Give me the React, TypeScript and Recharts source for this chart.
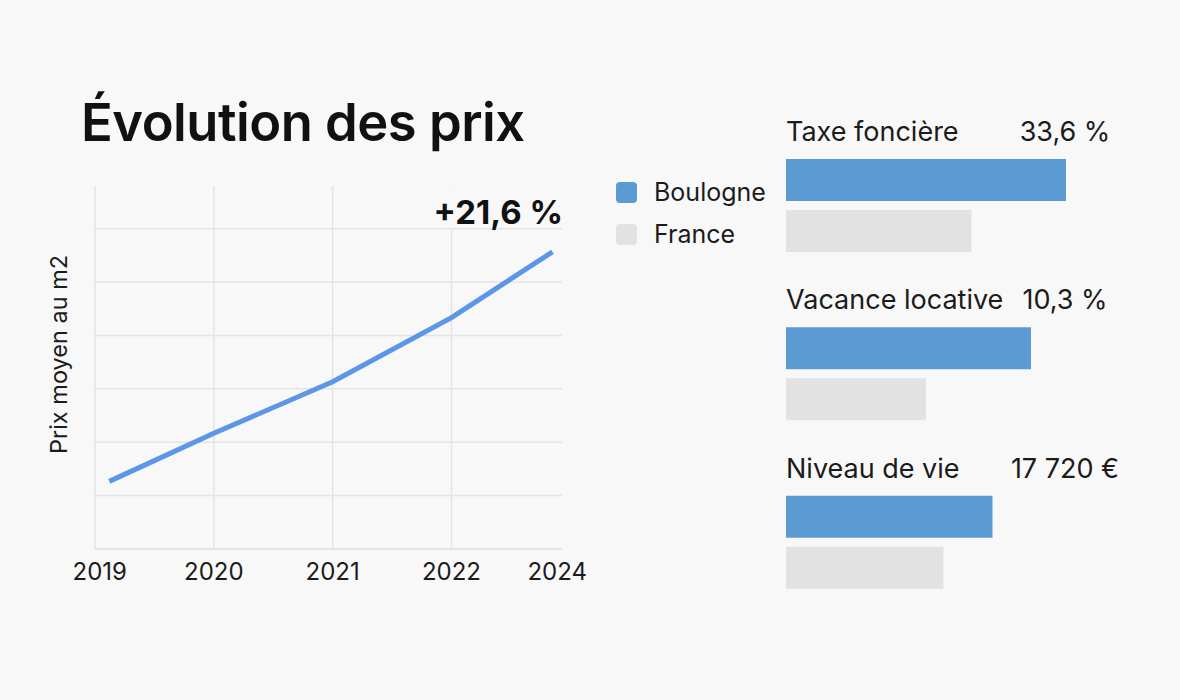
import React from "react";
import {
  LineChart,
  Line,
  XAxis,
  YAxis,
  CartesianGrid,
  BarChart,
  Bar,
  Legend,
  LabelList,
} from "recharts";

// ---------------------------------------------------------------------------
// Données
// ---------------------------------------------------------------------------
const annees = ["2019", "2020", "2021", "2022", "2024"];
const rangAnnee = [0.12, 1, 2, 3, 3.85];
const prixM2 = [5980, 6250, 6540, 6900, 7270];
const rangEtiquettes = [0.04, 1, 2, 3, 3.89];
const rangGrille = [1, 2, 3];
const graduationsPrix = [5600, 5900, 6200, 6500, 6800, 7100, 7400];

const criteres = ["Taxe foncière", "Vacance locative", "Niveau de vie"];
const valeursBoulogne = ["33,6 %", "10,3 %", "17 720 €"];
// indice comparatif (0 à 100) de chaque critère
const indiceBoulogne = [80, 70, 59];
const indiceFrance = [53, 40, 45];

const FONT = "Inter, 'Noto Sans', sans-serif";
const TEXTE = "#1b1b1b";
const GRILLE = "#e4e4e4";
const BLEU_LIGNE = "#5b96e8";
const BLEU = "#5c9ad3";
const GRIS = "#e2e2e2";
const FOND = "#f8f8f8";

const donneesPrix = annees.map((a, i) => ({
  annee: a,
  rang: rangAnnee[i],
  prix: prixM2[i],
}));

const donneesCriteres = criteres.map((c, i) => ({
  critere: c,
  valeur: valeursBoulogne[i],
  boulogne: indiceBoulogne[i],
  france: indiceFrance[i],
}));

const EtiquetteCritere = (props: any) => {
  const { x, y, index } = props;
  return (
    <g fontFamily={FONT} fontSize={27} fill={TEXTE}>
      <text x={x} y={y - 18} textAnchor="start">
        {criteres[index]}
      </text>
      <text x={x + 279} y={y - 18} textAnchor="middle">
        {valeursBoulogne[index]}
      </text>
    </g>
  );
};

const LegendeCarres = (props: any) => {
  const { payload } = props;
  return (
    <div style={{ fontFamily: FONT }}>
      {(payload || []).map((p: any) => (
        <div
          key={p.value}
          style={{ display: "flex", alignItems: "center", height: 42 }}
        >
          <span
            style={{
              width: 21,
              height: 21,
              borderRadius: 4,
              background: p.color,
              display: "inline-block",
              marginRight: 17,
            }}
          />
          <span style={{ fontSize: 25, color: TEXTE }}>{p.value}</span>
        </div>
      ))}
    </div>
  );
};

export default function App() {
  return (
    <div
      style={{
        position: "fixed",
        left: 0,
        top: 0,
        width: 1180,
        height: 700,
        background: FOND,
        fontFamily: FONT,
        overflow: "hidden",
      }}
    >
      <div
        style={{
          position: "absolute",
          left: 81,
          top: 96,
          fontSize: 52.5,
          lineHeight: 1,
          fontWeight: 600,
          color: "#111",
          letterSpacing: -0.5,
        }}
      >
        Évolution des prix
      </div>

      <div style={{ position: "absolute", left: 0, top: 160 }}>
        <LineChart
          width={600}
          height={430}
          data={donneesPrix}
          margin={{ top: 26, right: 38, left: 35, bottom: 0 }}
        >
          <CartesianGrid stroke={GRILLE} strokeWidth={1.5} syncWithTicks />
          <XAxis
            dataKey="rang"
            type="number"
            domain={[0, 3.93]}
            ticks={rangGrille}
            orientation="top"
            height={0}
            hide
          />
          <XAxis
            xAxisId="etiquettes"
            dataKey="rang"
            type="number"
            domain={[0, 3.93]}
            ticks={rangEtiquettes}
            interval={0}
            tickFormatter={(v: number) => annees[rangEtiquettes.indexOf(v)]}
            tickLine={false}
            tickSize={0}
            tickMargin={14}
            height={41}
            axisLine={{ stroke: GRILLE, strokeWidth: 1.5 }}
            tick={{ fill: TEXTE, fontSize: 24, fontFamily: FONT }}
          />
          <YAxis
            type="number"
            domain={[5600, 7640]}
            ticks={graduationsPrix}
            tick={() => <g />}
            tickLine={false}
            width={60}
            axisLine={{ stroke: GRILLE, strokeWidth: 1.5 }}
            label={{
              content: (p: any) => {
                const vb = p.viewBox || { x: 35, y: 26, height: 363 };
                const cx = vb.x + 23;
                const cy = vb.y + vb.height / 2 - 13;
                return (
                  <text
                    x={cx}
                    y={cy}
                    transform={`rotate(-90 ${cx} ${cy})`}
                    textAnchor="middle"
                    dominantBaseline="central"
                    fontFamily={FONT}
                    fontSize={23.5}
                    fill={TEXTE}
                  >
                    Prix moyen au m2
                  </text>
                );
              },
            }}
          />
          <Line
            type="linear"
            dataKey="prix"
            stroke={BLEU_LIGNE}
            strokeWidth={5}
            dot={false}
            isAnimationActive={false}
          />
        </LineChart>
      </div>

      <div
        style={{
          position: "absolute",
          left: 420,
          top: 187,
          width: 143,
          height: 41,
          boxSizing: "border-box",
          paddingTop: 9,
          background: FOND,
          textAlign: "right",
          fontSize: 33,
          lineHeight: 1,
          fontWeight: 700,
          color: "#111",
        }}
      >
        +21,6 %
      </div>

      <div style={{ position: "absolute", left: 600, top: 100 }}>
        <BarChart
          width={580}
          height={560}
          data={donneesCriteres}
          layout="vertical"
          margin={{ top: 21, right: 44, left: 186, bottom: 34 }}
          barSize={42}
          barGap={9}
        >
          <XAxis type="number" domain={[0, 100]} hide />
          <YAxis type="category" dataKey="critere" hide />
          <Legend
            layout="vertical"
            align="center"
            verticalAlign="middle"
            content={<LegendeCarres />}
            wrapperStyle={{ left: 16, top: 71, width: 160 }}
          />
          <Bar
            dataKey="boulogne"
            name="Boulogne"
            fill={BLEU}
            isAnimationActive={false}
          >
            <LabelList dataKey="valeur" content={<EtiquetteCritere />} />
          </Bar>
          <Bar
            dataKey="france"
            name="France"
            fill={GRIS}
            isAnimationActive={false}
          />
        </BarChart>
      </div>
    </div>
  );
}
